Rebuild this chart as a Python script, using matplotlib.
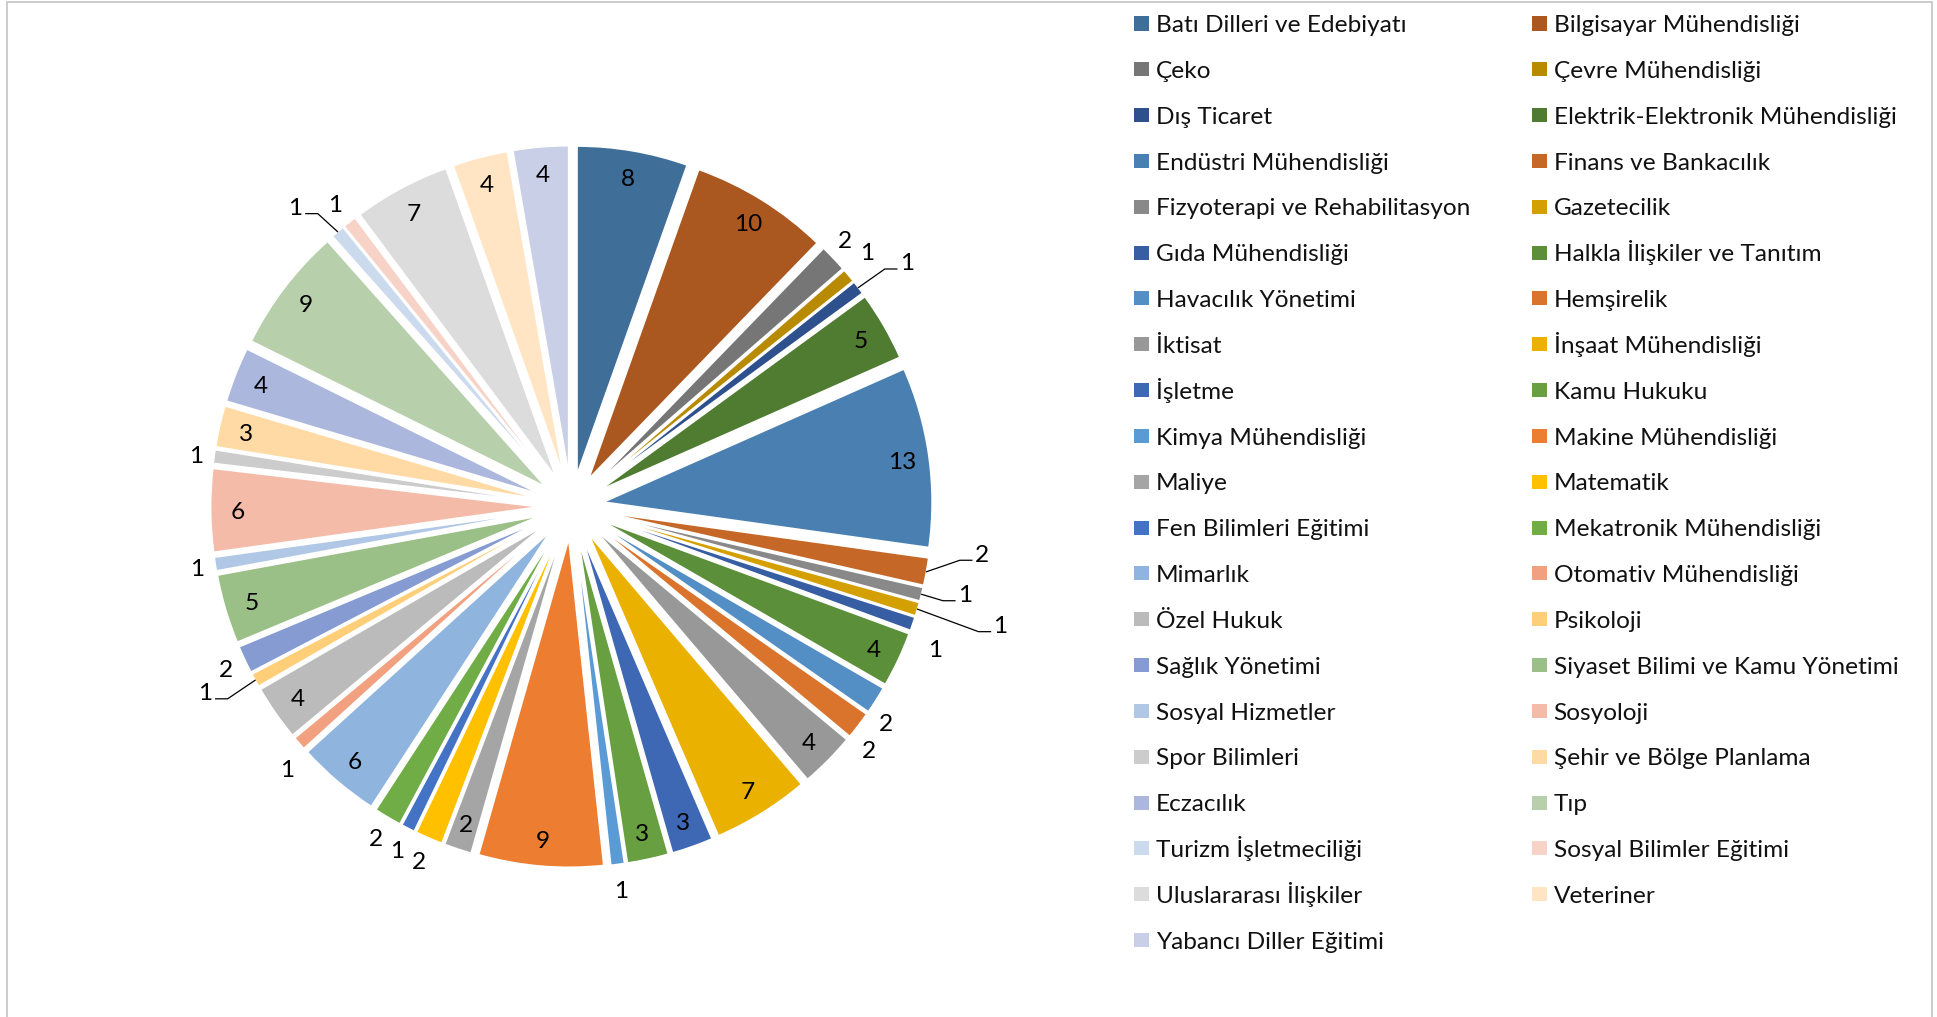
import numpy as np
import matplotlib
matplotlib.use('Agg')
import matplotlib.pyplot as plt
import matplotlib.colors as mcolors
from matplotlib.patches import Rectangle

plt.rcParams['font.family'] = ['Lato', 'DejaVu Sans']

# data
bolumler = ['Batı Dilleri ve Edebiyatı', 'Bilgisayar Mühendisliği', 'Çeko', 'Çevre Mühendisliği',
            'Dış Ticaret', 'Elektrik-Elektronik Mühendisliği', 'Endüstri Mühendisliği',
            'Finans ve Bankacılık', 'Fizyoterapi ve Rehabilitasyon', 'Gazetecilik',
            'Gıda Mühendisliği', 'Halkla İlişkiler ve Tanıtım', 'Havacılık Yönetimi', 'Hemşirelik',
            'İktisat', 'İnşaat Mühendisliği', 'İşletme', 'Kamu Hukuku', 'Kimya Mühendisliği',
            'Makine Mühendisliği', 'Maliye', 'Matematik', 'Fen Bilimleri Eğitimi',
            'Mekatronik Mühendisliği', 'Mimarlık', 'Otomativ Mühendisliği', 'Özel Hukuk',
            'Psikoloji', 'Sağlık Yönetimi', 'Siyaset Bilimi ve Kamu Yönetimi', 'Sosyal Hizmetler',
            'Sosyoloji', 'Spor Bilimleri', 'Şehir ve Bölge Planlama', 'Eczacılık', 'Tıp',
            'Turizm İşletmeciliği', 'Sosyal Bilimler Eğitimi', 'Uluslararası İlişkiler',
            'Veteriner', 'Yabancı Diller Eğitimi']
sayilar = [8, 10, 2, 1, 1, 5, 13, 2, 1, 1, 1, 4, 2, 2, 4, 7, 3, 3, 1, 9, 2, 2, 1, 2, 6, 1, 4,
           1, 2, 5, 1, 6, 1, 3, 4, 9, 1, 1, 7, 4, 4]

# labels that sit outside their slice
disarida = ['Çeko', 'Çevre Mühendisliği', 'Dış Ticaret', 'Finans ve Bankacılık',
            'Fizyoterapi ve Rehabilitasyon', 'Gazetecilik', 'Gıda Mühendisliği',
            'Havacılık Yönetimi', 'Hemşirelik', 'Kimya Mühendisliği', 'Matematik',
            'Fen Bilimleri Eğitimi', 'Mekatronik Mühendisliği', 'Otomativ Mühendisliği',
            'Psikoloji', 'Sağlık Yönetimi', 'Sosyal Hizmetler', 'Spor Bilimleri',
            'Turizm İşletmeciliği', 'Sosyal Bilimler Eğitimi']
# labels with a leader line: (distance px, angle deg clockwise from top)
cizgili = {'Dış Ticaret': (415, 53.9), 'Finans ve Bankacılık': (413, 96.5),
           'Fizyoterapi ve Rehabilitasyon': (403, 102.5), 'Gazetecilik': (445, 105.4),
           'Psikoloji': (411, 243.2), 'Turizm İşletmeciliği': (408, 317.3)}
# outside labels nudged off their slice centre line
kaydir = {'Çeko': (382, 45.7), 'Çevre Mühendisliği': (390, 49.2),
          'Gıda Mühendisliği': (390, 111.3), 'Havacılık Yönetimi': (382, 124.5),
          'Hemşirelik': (384, 129.2), 'Otomativ Mühendisliği': (387, 227.4)}

# Office theme colours, varied darker -> lighter like Excel does for many points
accents = ['#5B9BD5', '#ED7D31', '#A5A5A5', '#FFC000', '#4472C4', '#70AD47']
shades = [0.48, 0.66, 0.83]
tints = [0.19, 0.37, 0.55]


def to_lin(c):
    return np.where(c <= 0.04045, c / 12.92, ((c + 0.055) / 1.055) ** 2.4)


def to_srgb(l):
    return np.where(l <= 0.0031308, 12.92 * l, 1.055 * l ** (1 / 2.4) - 0.055)


def vary(hexcol, group):
    lin = to_lin(np.array(mcolors.to_rgb(hexcol)))
    if group < 3:
        lin = lin * shades[group]
    elif group > 3:
        lin = lin + (1 - lin) * tints[group - 4]
    return tuple(np.clip(to_srgb(lin), 0, 1))


renkler = [vary(accents[i % 6], i // 6) for i in range(len(sayilar))]

# layout in pixels (screen coords)
W, H = 1937, 1017
cx, cy = 571.5, 506.5
R, D = 329.0, 32.0
FS = 17.6


def px(x, y):
    return (x - cx) / R, (cy - y) / R


fig = plt.figure(figsize=(W / 100, H / 100), dpi=100)
ax = fig.add_axes([0, 0, 1, 1])
ax.pie(sayilar, colors=renkler, startangle=90, counterclock=False, radius=1,
       explode=[D / R] * len(sayilar), frame=True,
       wedgeprops=dict(edgecolor='white', linewidth=1.3))
ax.set_xlim(-cx / R, (W - cx) / R)
ax.set_ylim(-(H - cy) / R, cy / R)
ax.set_aspect('equal')
ax.set_axis_off()

toplam = sum(sayilar)
kum = np.cumsum(sayilar)
for i, (ad, v) in enumerate(zip(bolumler, sayilar)):
    aci = np.radians(360.0 * (kum[i] - v / 2) / toplam)
    if ad in cizgili:
        dist, a2 = cizgili[ad]
        a2 = np.radians(a2)
        lx, ly = cx + dist * np.sin(a2), cy - dist * np.cos(a2)
        sx, sy = cx + (R + D) * np.sin(aci), cy - (R + D) * np.cos(aci)
        if lx > cx:
            ex, bx = lx - 22, lx - 10
        else:
            ex, bx = lx + 23, lx + 11
        pts = [px(sx, sy), px(ex, ly + 7), px(bx, ly + 7)]
        ax.plot([p[0] for p in pts], [p[1] for p in pts], color='black', lw=0.9)
    elif ad in kaydir:
        dist, a2 = kaydir[ad]
        a2 = np.radians(a2)
        lx, ly = cx + dist * np.sin(a2), cy - dist * np.cos(a2)
    elif ad in disarida:
        dist = 378 + 8 * abs(np.cos(aci))
        lx, ly = cx + dist * np.sin(aci), cy - dist * np.cos(aci)
    else:
        dist = D + 302
        lx, ly = cx + dist * np.sin(aci), cy - dist * np.cos(aci)
    tx, ty = px(lx, ly + 8.5)
    ax.text(tx, ty, str(v), fontsize=FS, ha='center', va='baseline', color='black')

# legend, two columns filled row by row
col_kare = [1133.5, 1531.5]
col_yazi = [1156, 1553.5]
for i, ad in enumerate(bolumler):
    r, c = divmod(i, 2)
    y = 23.5 + 45.83 * r
    kx, ky = px(col_kare[c], y + 7)
    ax.add_patch(Rectangle((kx, ky), 15 / R, 14 / R, color=renkler[i], lw=0))
    tx, ty = px(col_yazi[c], y + 8.6)
    ax.text(tx, ty, ad, fontsize=FS, ha='left', va='baseline', color='#111111')

# chart area border
bx, by = px(7, 1030)
ax.add_patch(Rectangle((bx, by), 1925 / R, 1028 / R, fill=False, edgecolor='#BFBFBF',
                       lw=1.1, clip_on=False))

fig.savefig('out.png', dpi=100)
